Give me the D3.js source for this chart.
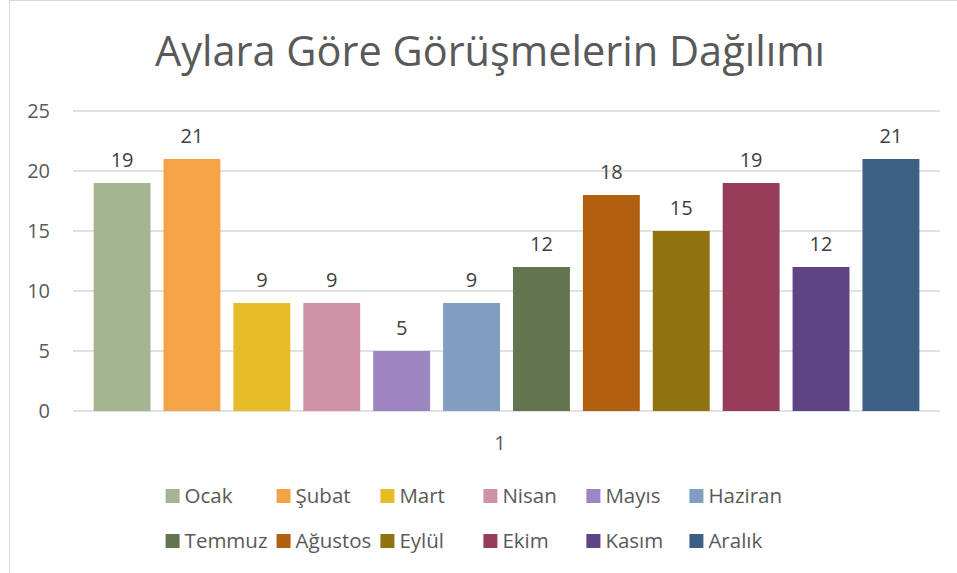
<!DOCTYPE html>
<html>
<head>
<meta charset="utf-8">
<script src="https://cdn.jsdelivr.net/npm/d3@7"></script>
<style>
  body { margin: 0; background: #fff; }
  svg { display: block; font-family: "Open Sans", sans-serif; }
</style>
</head>
<body>
<svg id="chart"></svg>
<script>
// veriler
const months = ['Ocak', 'Şubat', 'Mart', 'Nisan', 'Mayıs', 'Haziran',
  'Temmuz', 'Ağustos', 'Eylül', 'Ekim', 'Kasım', 'Aralık'];
const counts = [19, 21, 9, 9, 5, 9, 12, 18, 15, 19, 12, 21];
const colors = ['#a5b592', '#f3a447', '#e7bc29', '#d092a7', '#9c85c0', '#809ec2',
  '#637550', '#b26010', '#8f7410', '#963d5a', '#5e4482', '#3e5f84'];
const yTicks = [0, 5, 10, 15, 20, 25];
const categoryLabel = '1';
const title = 'Aylara Göre Görüşmelerin Dağılımı';

const width = 957, height = 573;
const centerX = 490;
const margin = { top: 111, right: 17, bottom: 162, left: 73 };

const svg = d3.select('#chart')
  .attr('width', width)
  .attr('height', height);

// grafik çerçevesi
svg.append('rect')
  .attr('x', 9.5).attr('y', 0.5)
  .attr('width', 1000).attr('height', 1000)
  .attr('fill', 'none')
  .attr('stroke', '#d9d9d9');

// başlık
svg.append('text')
  .attr('x', centerX).attr('y', 66)
  .attr('text-anchor', 'middle')
  .attr('font-size', 41.5)
  .attr('fill', '#595959')
  .text(title);

const x = d3.scaleBand()
  .domain(months)
  .range([margin.left, width - margin.right])
  .paddingInner(0.186)
  .paddingOuter(0.295);

const y = d3.scaleLinear()
  .domain([0, 25])
  .range([height - margin.bottom, margin.top]);

// yatay çizgiler
svg.append('g')
  .selectAll('line')
  .data(yTicks)
  .join('line')
  .attr('x1', margin.left).attr('x2', width - margin.right)
  .attr('y1', d => y(d)).attr('y2', d => y(d))
  .attr('stroke', '#d9d9d9')
  .attr('stroke-width', 1.3);

// Y ekseni
const yAxis = svg.append('g')
  .attr('transform', `translate(${margin.left - 23},0)`)
  .call(d3.axisLeft(y).tickValues(yTicks).tickSize(0).tickPadding(0));
yAxis.select('.domain').remove();
yAxis.selectAll('text')
  .attr('font-family', '"Open Sans", sans-serif')
  .attr('font-size', 20)
  .attr('fill', '#595959');

// çubuklar
svg.append('g')
  .selectAll('rect')
  .data(months)
  .join('rect')
  .attr('x', d => x(d))
  .attr('y', (d, i) => y(counts[i]))
  .attr('width', x.bandwidth())
  .attr('height', (d, i) => y(0) - y(counts[i]))
  .attr('fill', (d, i) => colors[i]);

// veri etiketleri
svg.append('g')
  .selectAll('text')
  .data(months)
  .join('text')
  .attr('x', d => x(d) + x.bandwidth() / 2)
  .attr('y', (d, i) => y(counts[i]) - 16)
  .attr('text-anchor', 'middle')
  .attr('font-size', 20)
  .attr('fill', '#404040')
  .text((d, i) => counts[i]);

// kategori etiketi
svg.append('text')
  .attr('x', centerX + 10)
  .attr('y', 450)
  .attr('text-anchor', 'middle')
  .attr('font-size', 20)
  .attr('fill', '#595959')
  .text(categoryLabel);

// lejant
const cols = 6;
const sw = 14;
const legend = svg.append('g');
const items = legend.selectAll('g')
  .data(months)
  .join('g');
items.append('rect')
  .attr('width', sw).attr('height', sw)
  .attr('y', -sw / 2)
  .attr('fill', (d, i) => colors[i]);
items.append('text')
  .attr('x', sw + 5)
  .attr('dy', '0.35em')
  .attr('font-size', 20.5)
  .attr('fill', '#595959')
  .text(d => d);

const textW = [];
items.select('text').each(function () { textW.push(this.getComputedTextLength()); });
const colW = d3.range(cols).map(c => Math.max(103, sw + 5 + d3.max([textW[c], textW[c + cols]]) + 9));
const totalW = d3.sum(colW);
const colX = d3.range(cols).map(c => d3.sum(colW.slice(0, c)));
const legendX = centerX - 11 - totalW / 2;
const rowY = [496, 541];
items.attr('transform', (d, i) => `translate(${legendX + colX[i % cols]},${rowY[Math.floor(i / cols)]})`);
</script>
</body>
</html>
